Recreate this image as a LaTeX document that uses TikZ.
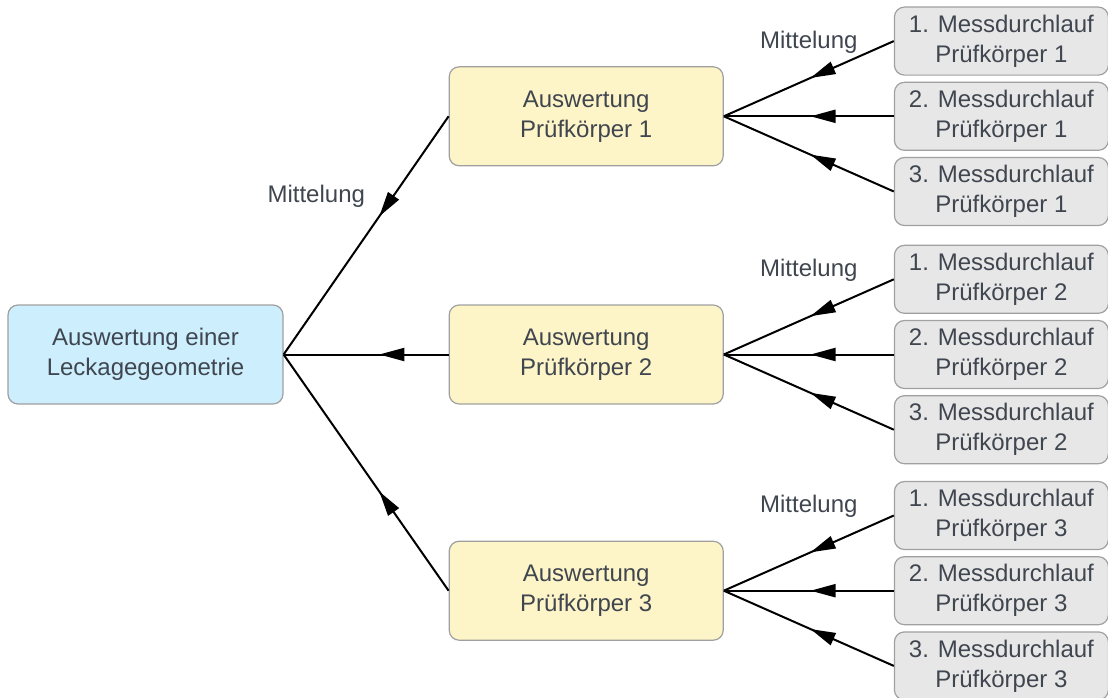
\documentclass[tikz,border=0pt]{standalone}
\usepackage{fontspec}
\setmainfont{Liberation Sans}
\usepackage{xcolor}
\usetikzlibrary{arrows.meta, positioning, calc, decorations.markings}

\definecolor{boxtext}{RGB}{64,70,79}
\definecolor{boxline}{RGB}{160,160,160}
\definecolor{resblue}{RGB}{204,238,253}
\definecolor{resyellow}{RGB}{253,244,199}
\definecolor{rungray}{RGB}{231,231,231}

\begin{document}
\begin{tikzpicture}[node distance=3pt,
    block/.style={rectangle, rounded corners=5pt, draw=boxline, line width=0.6pt, text=boxtext, align=center, font=\fontsize{12}{15}\selectfont, minimum width=137.5pt, minimum height=49.5pt},
    result/.style={block, fill=resblue},
    sample/.style={block, fill=resyellow, minimum width=137pt},
    run/.style={block, fill=rungray, minimum width=107pt, minimum height=34pt},
    arr/.style={line width=1pt, postaction={decorate}, decoration={markings, mark=at position #1 with {\arrow{Triangle[length=12.5pt,width=6.5pt]}}}},
    arr/.default=0.49,
    lbl/.style={text=boxtext, font=\fontsize{12}{15}\selectfont}
]

\useasboundingbox (-72.75pt,177.25pt) rectangle (481.25pt,-171.25pt);

\node[result] (geo) at (0,0) {Auswertung einer\\Leckagegeometrie};
\node[sample, right=82.5pt of geo] (pk2) {Auswertung\\Prüfkörper 2};
\node[sample, above=69pt of pk2] (pk1) {Auswertung\\Prüfkörper 1};
\node[sample, below=68pt of pk2] (pk3) {Auswertung\\Prüfkörper 3};

% Messdurchlaeufe je Pruefkoerper
\foreach \k/\lift in {1/9pt, 2/14pt, 3/14pt} {
  \node[run, right=85pt of pk\k] (m\k b) {2. Messdurchlauf\\Prüfkörper \k};
  \node[run, above=of m\k b] (m\k a) {1. Messdurchlauf\\Prüfkörper \k};
  \node[run, below=of m\k b] (m\k c) {3. Messdurchlauf\\Prüfkörper \k};
  \draw[arr] (m\k a.west) -- node[lbl, midway, above=\lift] {Mittelung} (pk\k.east);
  \draw[arr] (m\k b.west) -- (pk\k.east);
  \draw[arr] (m\k c.west) -- (pk\k.east);
}

\draw[arr=0.42] (pk1.west) -- node[lbl, pos=0.415, above left=0pt and 3.75pt] {Mittelung} (geo.east);
\draw[arr=0.42] (pk2.west) -- (geo.east);
\draw[arr=0.42] (pk3.west) -- (geo.east);

\end{tikzpicture}
\end{document}
